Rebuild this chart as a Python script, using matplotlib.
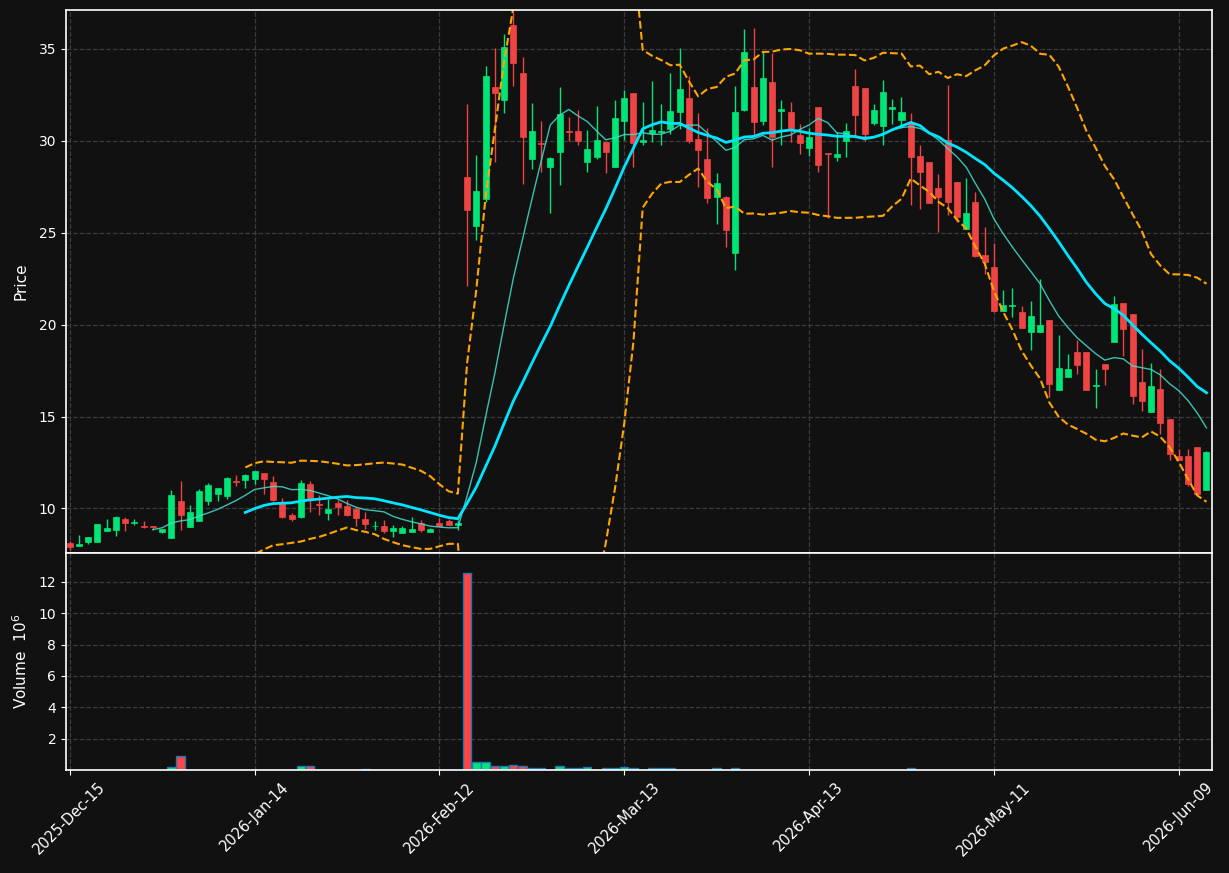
import matplotlib
matplotlib.use('Agg')
import matplotlib.pyplot as plt
import numpy as np
import pandas as pd

# daily OHLC (124 trading days)
opens = [8.10, 7.95, 8.15, 8.15, 8.76, 8.80, 9.40, 9.18, 9.07, 9.02,
         8.71, 8.38, 10.38, 8.98, 9.31, 10.40, 10.78, 10.67, 11.50, 11.54,
         11.60, 11.91, 11.42, 10.24, 9.62, 9.51, 11.34, 10.22, 9.75, 10.27,
         10.11, 9.96, 9.40, 9.02, 9.02, 8.76, 8.65, 8.71, 9.20, 8.71,
         9.18, 9.29, 9.09, 28.03, 25.38, 26.85, 32.91, 32.24, 36.31, 33.69,
         29.01, 29.90, 28.59, 29.41, 30.52, 30.53, 28.86, 29.13, 29.93, 28.59,
         31.09, 32.60, 29.95, 30.41, 30.50, 30.64, 31.59, 32.33, 30.10, 29.00,
         26.96, 26.96, 23.91, 31.68, 32.95, 31.08, 33.22, 31.64, 31.59, 30.32,
         29.62, 31.86, 29.34, 29.13, 30.00, 32.99, 32.88, 30.99, 30.81, 31.75,
         31.13, 30.95, 29.17, 28.85, 27.43, 30.04, 27.74, 25.23, 26.65, 23.78,
         23.13, 20.75, 21.03, 20.68, 19.60, 19.60, 20.24, 16.43, 17.14, 18.51,
         18.51, 16.68, 17.84, 19.06, 21.18, 20.57, 16.86, 15.25, 16.48, 14.85,
         12.83, 12.83, 13.32, 10.98]
highs = [8.20, 8.57, 8.47, 9.13, 9.40, 9.60, 9.56, 9.45, 9.29, 9.04,
         8.86, 11.02, 11.47, 10.20, 11.07, 11.40, 11.10, 11.70, 11.80, 11.85,
         12.03, 11.95, 11.74, 10.58, 9.75, 11.52, 11.47, 10.71, 10.50, 10.45,
         10.45, 10.07, 9.80, 9.29, 9.38, 9.12, 9.04, 9.51, 9.38, 8.95,
         9.47, 9.40, 9.38, 32.00, 29.21, 34.07, 35.04, 35.80, 37.00, 34.55,
         32.04, 31.10, 29.10, 32.95, 31.30, 31.70, 30.60, 31.90, 29.93, 32.22,
         32.77, 32.60, 32.10, 33.24, 32.00, 33.68, 35.04, 33.53, 31.50, 30.70,
         28.23, 27.00, 33.00, 36.07, 36.13, 34.85, 34.76, 32.20, 32.10, 30.90,
         30.70, 31.86, 29.35, 30.50, 31.00, 33.91, 32.90, 32.00, 33.31, 32.30,
         32.40, 31.50, 29.80, 28.85, 28.20, 33.04, 27.74, 27.96, 27.20, 25.29,
         24.47, 21.90, 21.97, 21.00, 21.26, 22.51, 20.25, 19.46, 18.43, 19.19,
         18.51, 17.61, 17.84, 21.55, 21.18, 20.57, 18.66, 17.94, 17.61, 14.85,
         13.25, 13.25, 13.32, 13.15]
lows = [7.75, 7.95, 8.06, 8.15, 8.76, 8.51, 8.76, 9.10, 8.95, 8.85,
        8.67, 8.38, 8.84, 8.98, 9.31, 10.20, 10.40, 10.50, 11.20, 11.13,
        11.35, 10.80, 10.38, 9.50, 9.31, 9.50, 9.82, 9.62, 9.38, 9.62,
        9.58, 9.05, 8.89, 8.82, 8.64, 8.45, 8.65, 8.71, 8.71, 8.71,
        9.07, 9.09, 8.82, 22.10, 24.63, 26.70, 28.83, 31.53, 32.98, 27.63,
        28.45, 28.32, 26.10, 27.59, 30.00, 29.80, 28.30, 29.00, 28.23, 28.59,
        30.04, 28.60, 29.80, 29.95, 29.80, 30.40, 30.65, 29.90, 27.50, 26.60,
        25.45, 24.20, 23.00, 31.60, 30.32, 30.86, 28.56, 29.80, 29.96, 29.26,
        29.20, 28.30, 25.81, 28.90, 29.10, 30.21, 30.00, 30.86, 29.80, 30.90,
        30.70, 26.50, 26.32, 26.60, 25.05, 25.96, 25.60, 25.23, 23.70, 22.78,
        20.70, 20.75, 20.42, 19.80, 18.60, 19.60, 16.06, 16.43, 17.14, 17.34,
        16.43, 15.48, 16.70, 19.06, 18.32, 15.70, 15.30, 15.25, 14.07, 12.65,
        12.65, 11.20, 10.76, 10.98]
closes = [7.88, 8.09, 8.47, 9.13, 8.93, 9.56, 9.18, 9.28, 8.97, 8.98,
          8.86, 10.71, 9.62, 9.80, 10.93, 11.25, 11.09, 11.63, 11.43, 11.81,
          12.03, 11.58, 10.44, 9.56, 9.40, 11.38, 10.53, 10.18, 9.95, 10.07,
          9.62, 9.47, 9.13, 9.05, 8.75, 8.91, 8.91, 8.86, 8.82, 8.87,
          9.07, 9.09, 9.18, 26.25, 27.27, 33.51, 32.62, 35.11, 34.26, 30.22,
          30.53, 29.85, 29.06, 31.46, 30.48, 30.00, 29.55, 30.04, 29.41, 31.24,
          32.33, 29.90, 30.05, 30.59, 30.55, 31.62, 32.82, 30.00, 29.52, 26.90,
          27.70, 25.14, 31.57, 34.85, 31.04, 33.44, 30.22, 31.76, 30.59, 29.90,
          30.21, 28.68, 29.26, 29.28, 30.53, 31.41, 30.37, 31.68, 32.66, 31.82,
          31.59, 29.13, 28.32, 26.63, 26.96, 26.68, 25.87, 26.05, 23.74, 23.42,
          20.75, 21.06, 21.08, 19.80, 20.46, 19.97, 16.77, 17.63, 17.57, 17.79,
          16.43, 16.72, 17.57, 21.15, 19.77, 16.12, 15.84, 16.64, 14.65, 12.98,
          12.65, 11.35, 10.76, 13.05]
# volume in millions
volumes = [0.03, 0.03, 0, 0, 0, 0, 0, 0, 0, 0,
           0, 0.2, 0.9, 0.03, 0.03, 0.03, 0.03, 0.03, 0.03, 0.03,
           0, 0.03, 0.03, 0.03, 0, 0.27, 0.27, 0.03, 0.03, 0.03,
           0.03, 0.03, 0.08, 0.03, 0.03, 0.03, 0, 0.03, 0, 0,
           0, 0, 0, 12.57, 0.49, 0.49, 0.23, 0.23, 0.3, 0.23,
           0.1, 0.1, 0.03, 0.23, 0.1, 0.1, 0.17, 0.03, 0.1, 0.1,
           0.17, 0.1, 0.02, 0.1, 0.1, 0.1, 0.02, 0.02, 0.02, 0.02,
           0.1, 0.02, 0.13, 0.02, 0.02, 0.02, 0.02, 0.02, 0.02, 0,
           0.02, 0.02, 0.02, 0, 0, 0.02, 0, 0, 0, 0,
           0, 0.13, 0, 0.02, 0.02, 0.02, 0, 0, 0, 0,
           0, 0.02, 0.02, 0, 0.02, 0.02, 0.02, 0.02, 0, 0,
           0.02, 0.02, 0.02, 0.02, 0.02, 0.02, 0.02, 0.02, 0.02, 0.02,
           0.02, 0.02, 0.02, 0.02]
tick_labels = ['2025-Dec-15', '2026-Jan-14', '2026-Feb-12', '2026-Mar-13',
               '2026-Apr-13', '2026-May-11', '2026-Jun-09']

df = pd.DataFrame({'Open': opens, 'High': highs, 'Low': lows,
                   'Close': closes, 'Volume': volumes})
ma10 = df['Close'].rolling(10).mean()
ma20 = df['Close'].rolling(20).mean()
sd20 = df['Close'].rolling(20).std()
upper = ma20 + 2 * sd20
lower = ma20 - 2 * sd20

bg = '#111111'
up_c = '#00e676'
dn_c = '#ef4444'
x = np.arange(len(df))
is_up = df['Close'] >= df['Open']
colors = np.where(is_up, up_c, dn_c)

fig = plt.figure(figsize=(12.29, 8.73), dpi=100, facecolor=bg)
ax = fig.add_axes([0.0537, 0.3671, 0.9325, 0.6214])
axv = fig.add_axes([0.0537, 0.118, 0.9325, 0.2486], sharex=ax)

for a in (ax, axv):
    a.set_facecolor(bg)
    for s in a.spines.values():
        s.set_color('white')
        s.set_linewidth(1.2)
    a.grid(True, color='#3c3c3c', linestyle='--', linewidth=0.9)
    a.set_axisbelow(True)
    a.tick_params(colors='white', labelsize=10)

# candles
ax.vlines(x, df['Low'], df['High'], colors=colors, linewidth=1)
body_lo = np.minimum(df['Open'], df['Close'])
body_h = np.maximum(np.abs(df['Close'] - df['Open']), 0.03)
ax.bar(x, body_h, bottom=body_lo, width=0.65, color=colors,
       edgecolor=colors, linewidth=0.5)

# moving averages and bands
ax.plot(x, ma10, color='#40e0d0', linewidth=1, alpha=0.85)
ax.plot(x, ma20, color='#00e5ff', linewidth=2)
ax.plot(x, upper, color='#ffa500', linestyle='--', linewidth=1.5)
ax.plot(x, lower, color='#ffa500', linestyle='--', linewidth=1.5)

ax.set_ylim(7.6, 37.12)
ax.set_yticks([10, 15, 20, 25, 30, 35])
ax.set_ylabel('Price', color='white', fontsize=11, labelpad=7)
ax.tick_params(axis='x', which='both', bottom=False, labelbottom=False)

# volume
vcolors = np.where(is_up, up_c, '#ff4444')
axv.bar(x, df['Volume'], width=0.9, color=vcolors, edgecolor='#1f77b4',
        linewidth=1)
axv.set_ylim(0, 13.85)
axv.set_yticks([2, 4, 6, 8, 10, 12])
axv.set_ylabel('Volume  $10^{6}$', color='white', fontsize=11, labelpad=6)

axv.set_xlim(-0.4, 123.6)
axv.set_xticks(np.arange(0, len(df), 20))
axv.set_xticklabels(tick_labels, rotation=45, fontsize=10.5)

fig.savefig('out.png', dpi=100, facecolor=bg)
